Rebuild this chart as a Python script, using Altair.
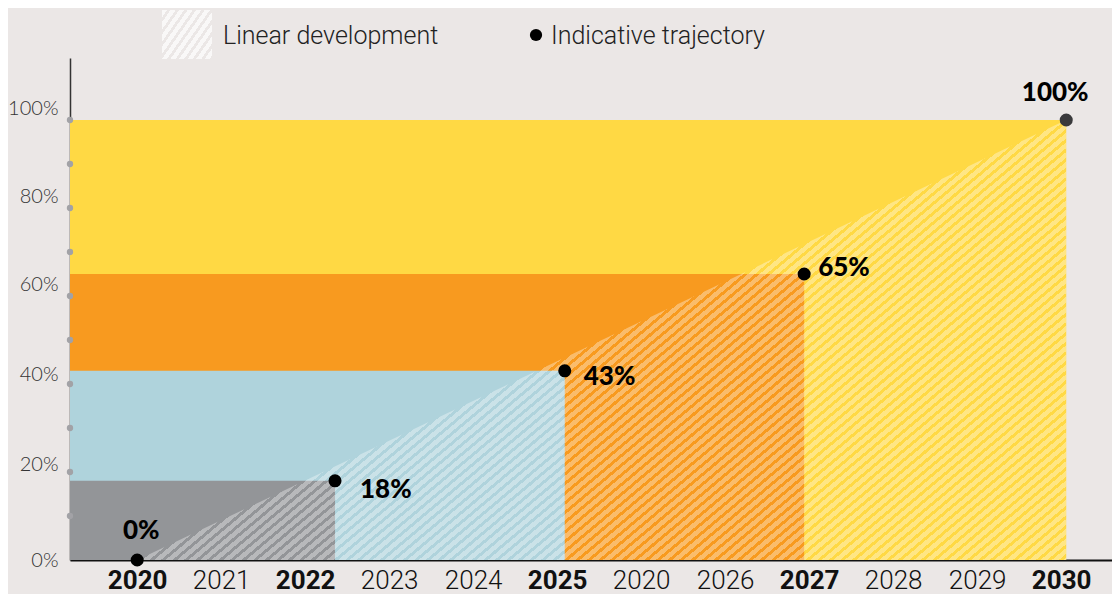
import math
import json
import altair as alt
import pandas as pd

# ---------------- data ----------------
x_labels = ["2020", "2021", "2022", "2023", "2024", "2025", "2020", "2026", "2027", "2028", "2029", "2030"]
bold_slots = [0, 2, 5, 8, 11]
point_pos = [0.0, 2.355, 5.09, 7.94, 11.06]
point_vals = [0, 18, 43, 65, 100]
point_labels = ["0%", "18%", "43%", "65%", "100%"]
band_names = ["Yellow", "Orange", "Blue", "Grey"]
band_end_pos = [11.06, 7.94, 5.09, 2.355]
band_vals = [100, 65, 43, 18]
band_colors = ["#ffd944", "#f89a1f", "#afd3dc", "#939598"]
y_label_vals = [0, 20, 40, 60, 80, 100]
y_dot_vals = [10, 20, 30, 40, 50, 60, 70, 80, 90, 100]
legend_labels = ["Linear development", "Indicative trajectory"]

# ---------------- layout / style ----------------
PX_SLOT = 84.0
PX_PCT = 4.4
W, H = 1042, 502
X_DOM = [-0.8, -0.8 + W / PX_SLOT]
Y_DOM = [0, H / PX_PCT]
BG = "#ebe7e6"


def hatch(w, h, theta_deg, period, frac, on, off):
    th = math.radians(theta_deg)
    a = math.sin(th) / h
    b = math.cos(th) / w
    k = (a + b) / (a * a + b * b)
    extent = w * math.sin(th) + h * math.cos(th)
    n = extent / period
    stops = []
    i = 0
    while i < n:
        s = round(i / n, 6)
        m = round(min((i + frac) / n, 1), 6)
        e = round(min((i + 1) / n, 1), 6)
        stops += [
            {"offset": s, "color": on},
            {"offset": m, "color": on},
            {"offset": m, "color": off},
            {"offset": e, "color": off},
        ]
        i += 1
    return {"gradient": "linear", "x1": 0, "y1": 0, "x2": k * a, "y2": k * b, "stops": stops}


line_df = pd.DataFrame({"pos": [point_pos[0], point_pos[-1]], "val": [point_vals[0], point_vals[-1]]})
area_w = (point_pos[-1] - point_pos[0]) * PX_SLOT
area_h = (point_vals[-1] - point_vals[0]) * PX_PCT
area_fill = hatch(area_w, area_h, 40, 7.4, 0.6, "rgba(255,255,255,0.34)", "rgba(255,255,255,0)")
legend_fill = hatch(50, 49, 55, 7.0, 0.6, "rgba(255,255,255,0.7)", "rgba(255,255,255,0)")

bands_df = pd.DataFrame({"band": band_names, "end": band_end_pos, "val": band_vals})
points_df = pd.DataFrame({"pos": point_pos, "val": point_vals, "label": point_labels})
dots_df = pd.DataFrame({"val": y_dot_vals})
legend_df = pd.DataFrame({"label": legend_labels})

x_scale = alt.Scale(domain=X_DOM, nice=False, zero=False)
y_scale = alt.Scale(domain=Y_DOM, nice=False, zero=False)

label_expr = json.dumps(x_labels) + "[datum.value]"
x_axis = alt.Axis(
    values=list(range(len(x_labels))),
    labelExpr=label_expr,
    title=None,
    grid=False,
    ticks=False,
    tickSize=0,
    domainColor="#111111",
    domainWidth=2,
    labelFont="Roboto",
    labelFontSize=26,
    labelFontWeight={"condition": {"test": "indexof(" + json.dumps(bold_slots) + ", datum.value) >= 0", "value": "bold"}, "value": 300},
    labelColor="#111111",
    labelBaseline="alphabetic",
    labelPadding=28,
    labelFlush=False,
    labelOverlap=False,
)
y_axis = alt.Axis(
    values=y_label_vals,
    labelExpr="datum.value + '%'",
    title=None,
    grid=False,
    ticks=False,
    tickSize=0,
    domainColor="#333333",
    domainWidth=1.5,
    labelFont="Lato",
    labelFontSize=20,
    labelFontWeight=300,
    labelColor="#333333",
    labelPadding=12,
    labelBaseline="middle",
    labelOffset={"condition": [{"test": "datum.value == 0", "value": 0},
                               {"test": "datum.value <= 20", "value": -8},
                               {"test": "datum.value <= 40", "value": -10}],
                 "value": -12},
    labelFlush=False,
    labelOverlap=False,
)

bars = alt.Chart(bands_df).mark_rect().encode(
    x=alt.X("end:Q", scale=x_scale, axis=x_axis),
    x2=alt.value(0),
    y=alt.Y("val:Q", scale=y_scale, axis=y_axis),
    y2=alt.datum(0),
    color=alt.Color("band:N", scale=alt.Scale(domain=band_names, range=band_colors), legend=None),
)

area = alt.Chart(line_df).mark_area(fill=area_fill, interpolate="linear").encode(
    x=alt.X("pos:Q", scale=x_scale),
    y=alt.Y("val:Q", scale=y_scale),
    y2=alt.datum(0),
)

dots = alt.Chart(dots_df).mark_circle(size=40, color="#a2a2a6", opacity=1).encode(
    x=alt.value(0),
    y=alt.Y("val:Q", scale=y_scale),
)

points = alt.Chart(points_df).mark_circle(size=170, opacity=1).encode(
    x=alt.X("pos:Q", scale=x_scale),
    y=alt.Y("val:Q", scale=y_scale),
    color=alt.condition(alt.datum.val == 100, alt.value("#3a3a3c"), alt.value("#000000")),
)

label_style = [(4, -29, "center"), (25, 9, "left"), (19, 6, "left"), (14, -6, "left"), (-11, -27, "center")]
label_layers = []
for lab, (dx, dy, al) in zip(point_labels, label_style):
    label_layers.append(
        alt.Chart(points_df).transform_filter(alt.datum.label == lab).mark_text(
            dx=dx, dy=dy, align=al, baseline="middle", font="Lato", fontSize=26,
            fontWeight=900, color="#000000"
        ).encode(
            x=alt.X("pos:Q", scale=x_scale),
            y=alt.Y("val:Q", scale=y_scale),
            text="label:N",
        )
    )

leg_swatch = alt.Chart(legend_df).transform_filter(alt.datum.label == legend_labels[0]).mark_rect(
    fill=legend_fill
).encode(x=alt.value(92), x2=alt.value(142), y=alt.value(-48), y2=alt.value(1))

leg_text1 = alt.Chart(legend_df).transform_filter(alt.datum.label == legend_labels[0]).mark_text(
    align="left", baseline="middle", font="Roboto", fontSize=25, fontWeight=300, color="#222222"
).encode(x=alt.value(153), y=alt.value(-22), text="label:N")

leg_dot = alt.Chart(legend_df).transform_filter(alt.datum.label == legend_labels[1]).mark_circle(
    size=150, color="#000000", opacity=1
).encode(x=alt.value(466), y=alt.value(-23))

leg_text2 = alt.Chart(legend_df).transform_filter(alt.datum.label == legend_labels[1]).mark_text(
    align="left", baseline="middle", font="Roboto", fontSize=25, fontWeight=300, color="#222222"
).encode(x=alt.value(481), y=alt.value(-22), text="label:N")

chart = alt.layer(
    bars, area, dots, points, *label_layers, leg_swatch, leg_text1, leg_dot, leg_text2
).properties(
    width=W,
    height=H,
    padding={"left": 62, "top": 50, "right": 0, "bottom": 34},
    autosize=alt.AutoSizeParams(type="none"),
).configure(background=BG).configure_view(stroke=None)

chart.save("out.html", embed_options={"renderer": "svg", "actions": False})
